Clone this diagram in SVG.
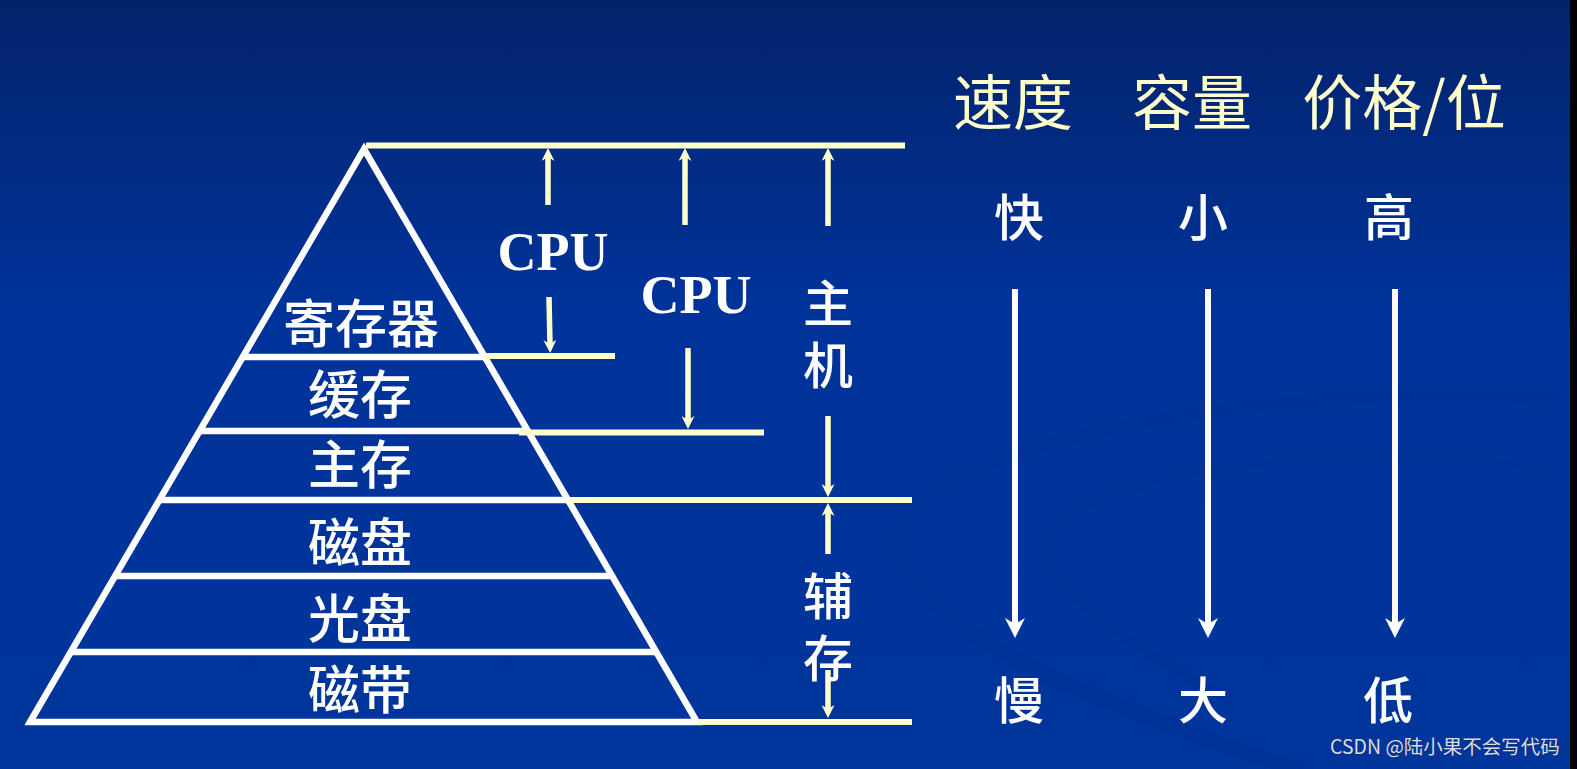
<svg xmlns="http://www.w3.org/2000/svg" width="1577" height="769" viewBox="0 0 1577 769">
<defs>
<linearGradient id="bg" x1="0" y1="0" x2="0" y2="1">
<stop offset="0" stop-color="#03226a"/>
<stop offset="0.4" stop-color="#00339a"/>
<stop offset="1" stop-color="#00359c"/>
</linearGradient>
<marker id="ya" viewBox="0 0 13 13" markerWidth="13" markerHeight="13" refX="5" refY="6.5" orient="auto" markerUnits="userSpaceOnUse">
<path d="M0,0 L13,6.5 L0,13 L4,6.5 z" fill="#ffffcc"/>
</marker>
<marker id="wa" viewBox="0 0 20 20" markerWidth="20" markerHeight="20" refX="8" refY="10" orient="auto" markerUnits="userSpaceOnUse">
<path d="M0,0 L20,10 L0,20 L6,10 z" fill="#ffffff"/>
</marker>
<style>
.wl{stroke:#ffffff;stroke-width:6.5;fill:none}
.yl{stroke:#ffffcc;stroke-width:6;fill:none}
.ya{stroke:#ffffcc;stroke-width:5.5;fill:none;marker-end:url(#ya)}
.wa{stroke:#ffffff;stroke-width:6;fill:none;marker-end:url(#wa)}
.lab{font-family:"Noto Sans CJK SC","Noto Sans",sans-serif;fill:#ffffff;text-anchor:middle;dominant-baseline:central;font-weight:500}
.vt{font-family:"Noto Sans CJK SC","Noto Sans",sans-serif;fill:#ffffff;text-anchor:middle;font-weight:500;font-size:50px;writing-mode:vertical-rl;letter-spacing:12px}
.hd{font-family:"Noto Sans CJK SC","Noto Sans",sans-serif;fill:#ffffcc;text-anchor:middle;dominant-baseline:central;font-size:60px}
.cpu{font-family:"Liberation Serif",serif;font-weight:bold;fill:#ffffff;text-anchor:middle;font-size:54px}
</style>
</defs>
<rect x="0" y="0" width="1577" height="769" fill="url(#bg)"/>
<g id="swoosh" fill="none" stroke="#002d8a" stroke-opacity="0.22">
<path d="M1560,400 C1300,380 1000,430 905,510 C860,560 960,640 1080,690 C1180,730 1260,760 1300,769" stroke-width="14"/>
<path d="M1560,470 C1350,440 1120,470 1060,520 C1010,570 1120,640 1230,700" stroke-width="8"/>
</g>
<rect x="1570" y="0" width="7" height="769" fill="#000000"/>

<g id="pyramid">
<polygon class="wl" points="30,722 364,149 697,722"/>
<line class="wl" x1="243" y1="357" x2="485" y2="357"/>
<line class="wl" x1="200" y1="431" x2="528" y2="431"/>
<line class="wl" x1="159" y1="500" x2="569" y2="500"/>
<line class="wl" x1="115" y1="576" x2="613" y2="576"/>
<line class="wl" x1="71" y1="652" x2="657" y2="652"/>
</g>
<g id="level-labels">
<text class="lab" x="361" y="320" font-size="52">寄存器</text>
<text class="lab" x="360" y="391" font-size="52">缓存</text>
<text class="lab" x="360" y="461" font-size="52">主存</text>
<text class="lab" x="360" y="539" font-size="52">磁盘</text>
<text class="lab" x="360" y="615" font-size="52">光盘</text>
<text class="lab" x="360" y="686" font-size="52">磁带</text>
</g>

<g id="connectors">
<line class="yl" x1="366" y1="145.5" x2="905" y2="145.5"/>
<line class="yl" x1="485" y1="356" x2="615" y2="356"/>
<line class="yl" x1="519" y1="432.5" x2="764" y2="432.5"/>
<line class="yl" x1="570" y1="500" x2="912" y2="500"/>
<line class="yl" x1="697" y1="722" x2="912" y2="722"/>
<line class="ya" x1="548" y1="205" x2="548" y2="156"/>
<line class="ya" x1="549" y1="297" x2="550" y2="345"/>
<line class="ya" x1="685" y1="225" x2="685" y2="156"/>
<line class="ya" x1="688" y1="348" x2="688" y2="421"/>
<line class="ya" x1="828" y1="226" x2="828" y2="156"/>
<line class="ya" x1="828" y1="416" x2="828" y2="489"/>
<line class="ya" x1="828" y1="554" x2="828" y2="511"/>
<line class="ya" x1="828" y1="670" x2="828" y2="710"/>
<line class="wa" x1="1015" y1="289" x2="1015" y2="626"/>
<line class="wa" x1="1208" y1="289" x2="1208" y2="626"/>
<line class="wa" x1="1395" y1="289" x2="1395" y2="626"/>
</g>

<g id="cpu1"><text class="cpu" x="553" y="270">CPU</text></g>
<g id="cpu2"><text class="cpu" x="696" y="313">CPU</text></g>
<g id="host"><text class="vt" x="828" y="340">主机</text></g>
<g id="aux"><text class="vt" x="828" y="633">辅存</text></g>

<g id="headers">
<text class="hd" x="1013" y="98">速度</text>
<text class="hd" x="1192" y="98">容量</text>
<text class="hd" x="1404" y="98">价格/位</text>
</g>
<g id="speed">
<text class="lab" x="1019" y="214" font-size="50">快</text>
<text class="lab" x="1019" y="697" font-size="50">慢</text>
</g>
<g id="capacity">
<text class="lab" x="1203" y="214" font-size="50">小</text>
<text class="lab" x="1203" y="697" font-size="50">大</text>
</g>
<g id="price">
<text class="lab" x="1389" y="214" font-size="50">高</text>
<text class="lab" x="1388" y="697" font-size="50">低</text>
</g>
<g id="watermark">
<text x="1331" y="755" font-family="Noto Sans CJK SC, Noto Sans, sans-serif" font-size="19.5" fill="#1a2a55" opacity="0.6">CSDN @陆小果不会写代码</text>
<text x="1330" y="754" font-family="Noto Sans CJK SC, Noto Sans, sans-serif" font-size="19.5" fill="#d9dde6">CSDN @陆小果不会写代码</text>
</g>
</svg>
